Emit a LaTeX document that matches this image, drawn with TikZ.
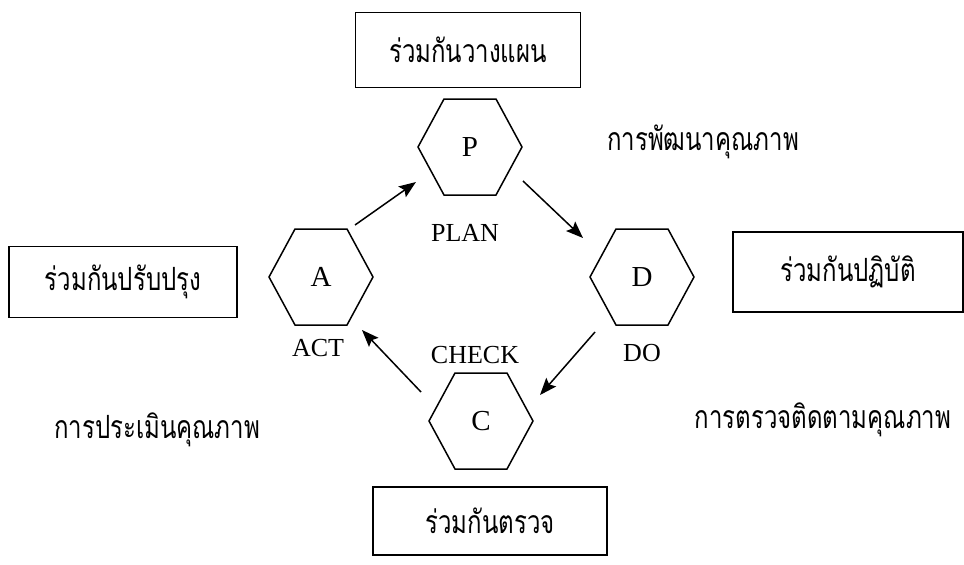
\documentclass[tikz,border=0pt]{standalone}
\usepackage{fontspec}
\setmainfont{Liberation Serif}
\newfontfamily\thai[Script=Thai,FakeStretch=0.75]{Loma}
\usetikzlibrary{arrows.meta}
\begin{document}
\begin{tikzpicture}[x=1pt,y=-1pt,
  box/.style={draw,line width=1.6pt,minimum width=#1,minimum height=72pt,inner sep=0pt,font=\thai\fontsize{32}{36}\selectfont},
  hexc/.style={inner sep=0pt,minimum size=10pt,font=\fontsize{29}{30}\selectfont},
  lab/.style={inner sep=0pt,font=\fontsize{26}{28}\selectfont},
  tlab/.style={inner sep=0pt,font=\thai\fontsize{32}{36}\selectfont},
  arr/.style={line width=1.5pt,-{Stealth[length=17pt,width=13pt,inset=3pt]}},
  hexline/.style={line width=1.5pt,line join=miter}]
\useasboundingbox[fill=white] (0,0) rectangle (964,565);

% boxes
\node[box=225pt,minimum height=75pt] (bP) at (468,50) {ร่วมกันวางแผน};
\node[box=228pt,minimum height=71pt] (bA) at (123,282) {ร่วมกันปรับปรุง};
\node[box=230pt,minimum height=80pt] (bD) at (848,272) {ร่วมกันปฏิบัติ};
\node[box=234pt,minimum height=68pt] (bC) at (490,521) {ร่วมกันตรวจ};

% hexagon centres
\node[hexc] (P) at (470,147) {P};
\node[hexc] (A) at (321,277) {A};
\node[hexc] (D) at (642,277) {D};
\node[hexc] (C) at (481,421) {C};
\foreach \n in {P,A,D,C}{
  \draw[hexline] ([shift={(-52,0)}]\n.center) -- ([shift={(-26,-48)}]\n.center)
    -- ([shift={(26,-48)}]\n.center) -- ([shift={(52,0)}]\n.center)
    -- ([shift={(26,48)}]\n.center) -- ([shift={(-26,48)}]\n.center) -- cycle;
}

% labels
\node[lab] (lP) at (465,233) {PLAN};
\node[lab] (lA) at (318,348) {ACT};
\node[lab] (lD) at (642,353) {DO};
\node[lab] (lC) at (475,355) {CHECK};

\node[tlab] (tP) at (703,142) {การพัฒนาคุณภาพ};
\node[tlab] (tA) at (157,430) {การประเมินคุณภาพ};
\node[tlab] (tD) at (823,420) {การตรวจติดตามคุณภาพ};

% arrows
\draw[arr] ([shift={(34,-52)}]A.center) -- ([shift={(-54,35)}]P.center);
\draw[arr] ([shift={(53,34)}]P.center) -- ([shift={(-59,-39)}]D.center);
\draw[arr] ([shift={(-47,55)}]D.center) -- ([shift={(59,-26)}]C.center);
\draw[arr] ([shift={(-60,-29)}]C.center) -- ([shift={(41,53)}]A.center);
\end{tikzpicture}
\end{document}
